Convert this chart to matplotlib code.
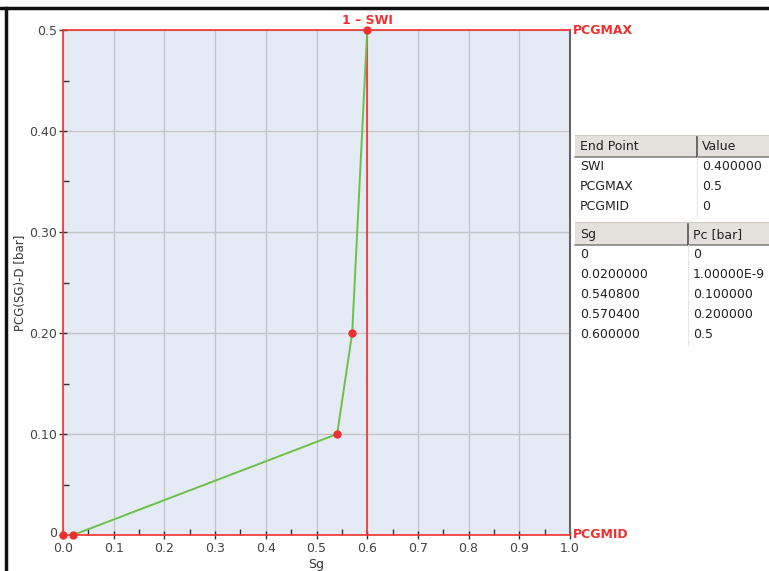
import matplotlib
matplotlib.use("Agg")
import matplotlib.pyplot as plt
import matplotlib.transforms as mtransforms
from matplotlib.patches import Rectangle
from matplotlib.lines import Line2D

# Data
sg = [0.0, 0.02, 0.5408, 0.5704, 0.6]
pc = [0.0, 1e-9, 0.1, 0.2, 0.5]
swi = 0.4
pcgmax = 0.5
pcgmid = 0.0

x_ticks = [0.0, 0.1, 0.2, 0.3, 0.4, 0.5, 0.6, 0.7, 0.8, 0.9, 1.0]
x_ticklabels = ["0.0", "0.1", "0.2", "0.3", "0.4", "0.5", "0.6", "0.7", "0.8", "0.9", "1.0"]
y_ticks = [0.0, 0.1, 0.2, 0.3, 0.4, 0.5]
y_ticklabels = ["0", "0.10", "0.20", "0.30", "0.40", "0.5"]

end_point_names = ["SWI", "PCGMAX", "PCGMID"]
end_point_values = ["0.400000", "0.5", "0"]
table_sg = ["0", "0.0200000", "0.540800", "0.570400", "0.600000"]
table_pc = ["0", "1.00000E-9", "0.100000", "0.200000", "0.5"]

W, H = 769, 571
fig = plt.figure(figsize=(W / 100, H / 100), dpi=100)
fig.patch.set_facecolor("white")

def fx(px):
    return px / W

def fy(py):
    return 1 - py / H

ax = fig.add_axes([fx(63), fy(535), fx(570) - fx(63), fy(30) - fy(535)])
ax.set_facecolor("#e5ebf5")
ax.set_xlim(0, 1.0)
ax.set_ylim(0, 0.5)

red = "#f03030"
ax.set_xticks(x_ticks)
ax.set_xticklabels(x_ticklabels)
ax.set_yticks(y_ticks)
ax.set_yticklabels(y_ticklabels)
ax.set_xticks([0.05 + 0.1 * i for i in range(10)], minor=True)
ax.set_yticks([0.05 + 0.1 * i for i in range(5)], minor=True)
ax.tick_params(which="major", direction="inout", length=6, width=1, color="#333333",
               labelsize=9, labelcolor="#444444", pad=1)
ax.tick_params(axis="x", which="major", pad=2)
ax.tick_params(which="minor", direction="in", length=4, width=1, color="#333333")
ax.grid(True, which="major", color="#c2c4c8", linewidth=1.0)
ax.set_axisbelow(True)

# nudge the "0" y label slightly up (as in the reference it sits on the axis corner)
ylab0 = ax.get_yticklabels()[0]
ylab0.set_transform(ylab0.get_transform() +
                    mtransforms.ScaledTranslation(0, 3 / 100, fig.dpi_scale_trans))

for s in ["left", "bottom", "top"]:
    ax.spines[s].set_color(red)
    ax.spines[s].set_linewidth(1.2)
ax.spines["right"].set_color("#666666")
ax.spines["right"].set_linewidth(1.5)

ax.axvline(1 - swi, color=red, linewidth=1.2, zorder=2.5)
ax.plot(sg, pc, color="#6cc04a", linewidth=1.4, zorder=3)
ax.plot(sg, pc, linestyle="none", marker="o", markersize=5, color=red,
        markeredgecolor=red, zorder=4, clip_on=False)

ax.set_xlabel("Sg", fontsize=9, color="#333333", labelpad=2)
ax.set_ylabel("PCG(SG)-D [bar]", fontsize=8.5, color="#333333", labelpad=2)

ax.text(1 - swi, 1.005, "1 \u2013 SWI", transform=ax.get_xaxis_transform(),
        ha="center", va="bottom", color=red, fontsize=9, fontweight="bold")
ax.text(1.005, pcgmax, "PCGMAX", transform=ax.get_yaxis_transform(),
        ha="left", va="center", color=red, fontsize=9, fontweight="bold")
ax.text(1.005, pcgmid, "PCGMID", transform=ax.get_yaxis_transform(),
        ha="left", va="center", color=red, fontsize=9, fontweight="bold")

# Window frame
fig.add_artist(Line2D([fx(0), fx(W)], [fy(8), fy(8)], color="#111111", linewidth=2.5))
fig.add_artist(Line2D([fx(6), fx(6)], [fy(8), fy(H)], color="#111111", linewidth=2.5))

# Tables
tx0 = 575
txt_col = "#222222"

def header(y0, y1, col_x, labels):
    fig.add_artist(Rectangle((fx(tx0), fy(y1)), fx(W) - fx(tx0), fy(y0) - fy(y1),
                             transform=fig.transFigure, facecolor="#e4e1dc",
                             edgecolor="none"))
    fig.add_artist(Line2D([fx(tx0), fx(W)], [fy(y1), fy(y1)], color="#8a8580", linewidth=1.2))
    fig.add_artist(Line2D([fx(tx0), fx(W)], [fy(y0), fy(y0)], color="#d0ccc6", linewidth=0.8))
    fig.add_artist(Line2D([fx(col_x), fx(col_x)], [fy(y0 + 2), fy(y1)], color="#555555", linewidth=1.2))
    fig.text(fx(tx0 + 5), fy((y0 + y1) / 2 + 1), labels[0], ha="left", va="center",
             fontsize=9, color=txt_col)
    fig.text(fx(col_x + 5), fy((y0 + y1) / 2 + 1), labels[1], ha="left", va="center",
             fontsize=9, color=txt_col)

def rows(y_start, row_h, col_x, c1, c2):
    for i, (a, b) in enumerate(zip(c1, c2)):
        yc = y_start + row_h * (i + 0.5)
        fig.text(fx(tx0 + 5), fy(yc), a, ha="left", va="center", fontsize=9, color=txt_col)
        fig.text(fx(col_x + 5), fy(yc), b, ha="left", va="center", fontsize=9, color=txt_col)
    fig.add_artist(Line2D([fx(col_x), fx(col_x)], [fy(y_start), fy(y_start + row_h * len(c1))],
                          color="#e8e6e0", linewidth=0.8))

header(135, 157, 697, ["End Point", "Value"])
rows(157, 20, 697, end_point_names, end_point_values)
header(222, 245, 688, ["Sg", "Pc [bar]"])
rows(245, 20, 688, table_sg, table_pc)

fig.savefig("out.png", dpi=100)
